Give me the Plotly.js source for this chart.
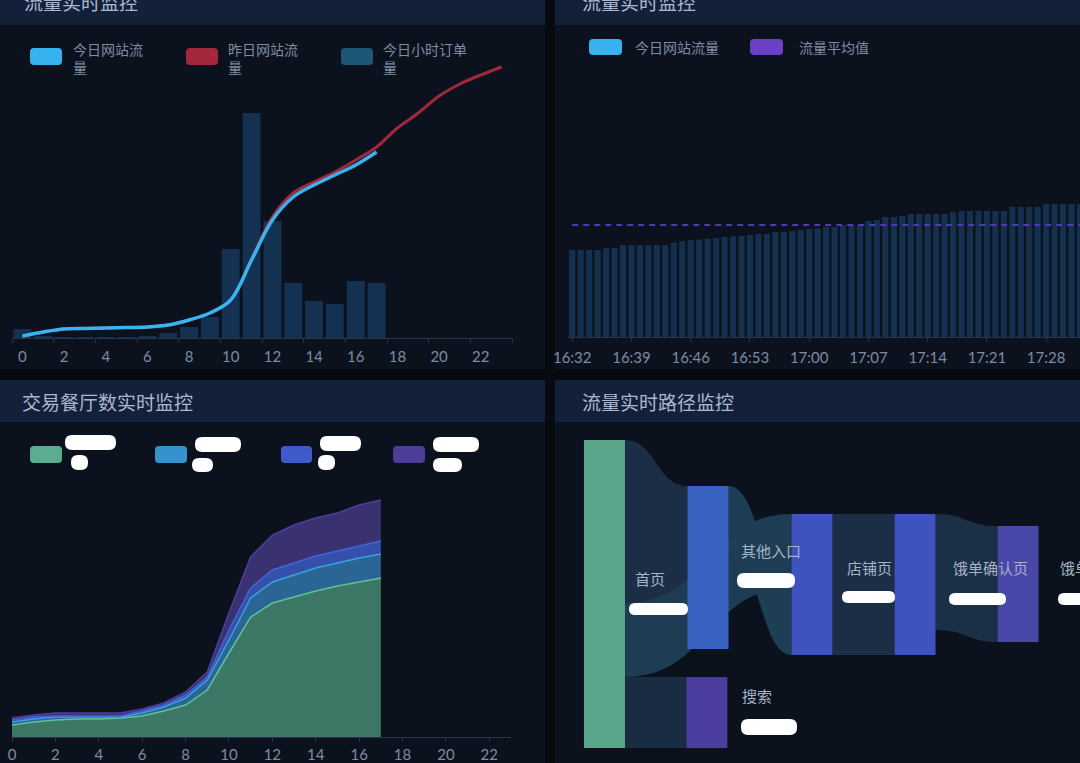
<!DOCTYPE html>
<html>
<head>
<meta charset="utf-8">
<script src="https://cdn.plot.ly/plotly-3.0.1.min.js"></script>
<style>
  html, body { margin: 0; padding: 0; background: #070a10; }
  #chart { width: 1080px; height: 763px; }
</style>
</head>
<body>
<div id="chart"></div>
<script>
const W = 1080, H = 763;

// --- panel 1: 流量实时监控 (hourly) ---
const hours = [0,1,2,3,4,5,6,7,8,9,10,11,12,13,14,15,16,17,18,19,20,21,22,23];
const hourTicks = [0,2,4,6,8,10,12,14,16,18,20,22];
const todayFlow = [200,600,900,950,1000,1050,1100,1300,1800,2500,3800,7800,11800,14100,15300,16300,17300,18600];
const yesterdayFlow = [200,600,900,950,1000,1050,1100,1300,1800,2500,3800,7900,12100,14500,15600,16600,17800,19100,21000,22500,24200,25400,26300,27100];
const hourOrders = [9,2,1,1,1,1,2,5,11,21,89,225,117,55,37,34,57,55];

// --- panel 2: 流量实时监控 (per minute) ---
const minutes = ['16:32','16:33','16:34','16:35','16:36','16:37','16:38','16:39','16:40','16:41',
  '16:42','16:43','16:44','16:45','16:46','16:47','16:48','16:49','16:50','16:51',
  '16:52','16:53','16:54','16:55','16:56','16:57','16:58','16:59','17:00','17:01',
  '17:02','17:03','17:04','17:05','17:06','17:07','17:08','17:09','17:10','17:11',
  '17:12','17:13','17:14','17:15','17:16','17:17','17:18','17:19','17:20','17:21',
  '17:22','17:23','17:24','17:25','17:26','17:27','17:28','17:29','17:30','17:31','17:32'];
const minuteTicks = ['16:32','16:39','16:46','16:53','17:00','17:07','17:14','17:21','17:28'];
const minuteFlow = [870,870,870,870,890,890,920,920,920,920,
  920,920,940,960,970,975,980,990,1000,1005,
  1010,1020,1030,1030,1050,1050,1060,1070,1080,1085,
  1100,1100,1120,1120,1125,1160,1170,1200,1200,1210,
  1230,1230,1230,1230,1230,1250,1260,1260,1260,1260,
  1260,1260,1300,1300,1300,1300,1330,1330,1330,1330,1330];
const avgFlow = 1120;

// --- panel 3: 交易餐厅数实时监控 ---
const areaHours = [0,1,2,3,4,5,6,7,8,9,10,11,12,13,14,15,16,17];
const shopsA = [120,150,170,180,180,190,210,260,320,470,840,1200,1340,1400,1460,1510,1550,1590];
const shopsB = [30,30,30,20,20,10,30,40,70,100,130,190,210,220,230,230,240,240];
const shopsC = [20,20,10,10,10,10,20,20,30,30,100,100,120,120,120,120,120,130];
const shopsD = [20,20,30,30,30,30,20,20,30,50,170,310,350,380,380,380,410,410];

// --- panel 4: 流量实时路径监控 ---
const pathNodes = ['首页','其他入口','搜索','店铺页','饿单确认页','饿单支付页'];
const pathSource = [0,0,0,1,3,4];
const pathTarget = [1,3,2,3,4,5];
const pathValue = [163,74,71,67,141,116];

const CJK = '"Noto Sans CJK SC", "Noto Sans", sans-serif';
const NUM = 'Lato, "Noto Sans", sans-serif';
const tickColor = '#7d8ca4';
const axisColor = '#2a3447';

// pixel helpers
const px = x => x / W;
const py = y => 1 - y / H;

function box(x0, y0, x1, y1, color) {
  return { type: 'rect', xref: 'paper', yref: 'paper', layer: 'below',
    x0: px(x0), x1: px(x1), y0: py(y1), y1: py(y0),
    fillcolor: color, line: { width: 0 } };
}
function pill(x0, y0, x1, y1, color, r, layer) {
  r = r || 4;
  const X = v => px(v).toFixed(5), Y = v => py(v).toFixed(5);
  const p = `M${X(x0 + r)},${Y(y0)} L${X(x1 - r)},${Y(y0)} Q${X(x1)},${Y(y0)} ${X(x1)},${Y(y0 + r)} ` +
    `L${X(x1)},${Y(y1 - r)} Q${X(x1)},${Y(y1)} ${X(x1 - r)},${Y(y1)} L${X(x0 + r)},${Y(y1)} ` +
    `Q${X(x0)},${Y(y1)} ${X(x0)},${Y(y1 - r)} L${X(x0)},${Y(y0 + r)} Q${X(x0)},${Y(y0)} ${X(x0 + r)},${Y(y0)} Z`;
  return { type: 'path', xref: 'paper', yref: 'paper', layer: layer || 'above',
    path: p, fillcolor: color, line: { width: 0 } };
}
function label(x, y, text, opts) {
  return Object.assign({ xref: 'paper', yref: 'paper', x: px(x), y: py(y), text: text,
    showarrow: false, xanchor: 'left', yanchor: 'middle', align: 'left',
    font: { family: CJK, size: 14, color: '#7f8ca3' } }, opts || {});
}

const headerColor = '#12203a';
const bodyColor = '#0b121e';

const shapes = [
  box(0, -2, 545, 25, headerColor), box(0, 25, 545, 369, bodyColor),
  box(555, -2, 1080, 25, headerColor), box(555, 25, 1080, 369, bodyColor),
  box(0, 380, 545, 422, headerColor), box(0, 422, 545, 763, bodyColor),
  box(555, 380, 1080, 422, headerColor), box(555, 422, 1080, 763, bodyColor),
  // legend swatches
  pill(30, 48, 62, 65, '#36b2ef'), pill(186, 48, 218, 65, '#a3283c'), pill(341, 48, 373, 65, '#1d5677'),
  pill(589, 39, 622, 55, '#36b2ef'), pill(750, 39, 783, 55, '#6a40c8'),
  pill(30, 446, 62, 463, '#5aad8e'), pill(155, 446, 187, 463, '#3493cc'),
  pill(281, 446, 312, 463, '#3f5bc9'), pill(393, 446, 425, 463, '#4e3d97'),
  // masked labels
  pill(65, 435, 116, 450, '#ffffff', 7), pill(71, 455, 88, 470, '#ffffff', 7),
  pill(195, 437, 241, 452, '#ffffff', 7), pill(192, 458, 213, 472, '#ffffff', 7),
  pill(320, 436, 361, 451, '#ffffff', 7), pill(318, 455, 335, 470, '#ffffff', 7),
  pill(433, 437, 479, 452, '#ffffff', 7), pill(433, 458, 462, 472, '#ffffff', 7),
  pill(629, 603, 688, 615, '#ffffff', 6), pill(737, 573, 795, 588, '#ffffff', 7),
  pill(741, 719, 797, 735, '#ffffff', 7), pill(842, 591, 895, 603, '#ffffff', 6),
  pill(949, 593, 1006, 605, '#ffffff', 6), pill(1058, 593, 1090, 605, '#ffffff', 6)
];

const titleFont = { family: CJK, size: 19, color: '#aab8cd' };
const nodeFont = { family: CJK, size: 15, color: '#a7b3c6' };
const annotations = [
  label(22, 1, '流量实时监控', { font: titleFont }),
  label(580, 1, '流量实时监控', { font: titleFont }),
  label(20, 401, '交易餐厅数实时监控', { font: titleFont }),
  label(580, 401, '流量实时路径监控', { font: titleFont }),
  label(71, 37, '今日网站流<br>量', { yanchor: 'top' }),
  label(226, 37, '昨日网站流<br>量', { yanchor: 'top' }),
  label(381, 37, '今日小时订单<br>量', { yanchor: 'top' }),
  label(633, 47, '今日网站流量'),
  label(797, 47, '流量平均值'),
  label(633, 578, '首页', { font: nodeFont }),
  label(739, 550, '其他入口', { font: nodeFont }),
  label(740, 695, '搜索', { font: nodeFont }),
  label(845, 567, '店铺页', { font: nodeFont }),
  label(951, 567, '饿单确认页', { font: nodeFont }),
  label(1058, 567, '饿单支付页', { font: nodeFont })
];

const traces = [
  { type: 'bar', x: hours.slice(0, hourOrders.length), y: hourOrders, name: '今日小时订单量',
    xaxis: 'x', yaxis: 'y', marker: { color: '#143151', line: { width: 0 } }, width: 0.86 },
  { type: 'scatter', mode: 'lines', x: hours, y: yesterdayFlow, name: '昨日网站流量',
    xaxis: 'x', yaxis: 'y2', line: { color: '#a3283c', width: 3, shape: 'spline', smoothing: 1 } },
  { type: 'scatter', mode: 'lines', x: hours.slice(0, todayFlow.length), y: todayFlow, name: '今日网站流量',
    xaxis: 'x', yaxis: 'y2', line: { color: '#38b4f0', width: 3.5, shape: 'spline', smoothing: 1 } },

  { type: 'bar', x: minutes, y: minuteFlow, name: '今日网站流量',
    xaxis: 'x3', yaxis: 'y3', marker: { color: '#15304f', line: { width: 0 } } },
  { type: 'scatter', mode: 'lines', x: minutes, y: minutes.map(() => avgFlow), name: '流量平均值',
    xaxis: 'x3', yaxis: 'y3', line: { color: '#4d3bb0', width: 2, dash: '6px,5px' } },

  { type: 'scatter', mode: 'lines', x: areaHours, y: shopsA, stackgroup: 's', name: 'A',
    xaxis: 'x4', yaxis: 'y4', fillcolor: '#3d7866', line: { color: '#5cc29b', width: 1.5 } },
  { type: 'scatter', mode: 'lines', x: areaHours, y: shopsB, stackgroup: 's', name: 'B',
    xaxis: 'x4', yaxis: 'y4', fillcolor: '#2a6594', line: { color: '#38a3dd', width: 1.5 } },
  { type: 'scatter', mode: 'lines', x: areaHours, y: shopsC, stackgroup: 's', name: 'C',
    xaxis: 'x4', yaxis: 'y4', fillcolor: '#3550aa', line: { color: '#4664d8', width: 1.5 } },
  { type: 'scatter', mode: 'lines', x: areaHours, y: shopsD, stackgroup: 's', name: 'D',
    xaxis: 'x4', yaxis: 'y4', fillcolor: '#3a3170', line: { color: '#4d3f9e', width: 1.5 } },

  { type: 'sankey', arrangement: 'fixed',
    domain: { x: [584 / W, 1039 / W], y: [py(748), py(440)] },
    node: { label: pathNodes, pad: 20, thickness: 41,
      x: [0.045, 0.2725, 0.270, 0.501, 0.7275, 0.954],
      y: [0.5, 0.414, 0.885, 0.469, 0.469, 0.4675],
      color: ['#5aa68a', '#3a62c2', '#4b3d9e', '#3e52c0', '#3e52c0', '#4848a8'],
      line: { width: 0 } },
    link: { source: pathSource, target: pathTarget, value: pathValue,
      color: ['#1b2e45', '#1e3c53', '#1a2c42', '#1e3e56', '#1b2e45', '#1b2f46'] },
    textfont: { family: CJK, size: 1, color: 'rgba(0,0,0,0)' } }
];

const xCommon = { showgrid: false, zeroline: false, showline: true, linecolor: axisColor, linewidth: 1,
  tickfont: { family: NUM, size: 15, color: tickColor }, fixedrange: true };
const yCommon = { showgrid: false, zeroline: false, showline: false, showticklabels: false, fixedrange: true };

const layout = {
  width: W, height: H,
  margin: { l: 0, r: 0, t: 0, b: 0 },
  paper_bgcolor: '#070a10', plot_bgcolor: 'rgba(0,0,0,0)',
  showlegend: false, bargap: 0.28,
  font: { family: CJK },
  xaxis: Object.assign({}, xCommon, { domain: [12 / W, 512 / W], range: [-0.5, 23.5],
    tickmode: 'array', tickvals: hourTicks, ticks: '', ticklabelstandoff: 5,
    minor: { tickmode: 'linear', tick0: -0.5, dtick: 2, ticks: 'outside', ticklen: 4, tickcolor: axisColor } }),
  yaxis: Object.assign({}, yCommon, { domain: [py(338), py(58)], range: [0, 280] }),
  yaxis2: Object.assign({}, yCommon, { overlaying: 'y', range: [0, 28000] }),
  xaxis3: Object.assign({}, xCommon, { domain: [568 / W, 1], range: [-0.5, 60], type: 'category',
    tickmode: 'array', tickvals: minuteTicks, ticks: 'outside', ticklen: 4, tickcolor: axisColor,
    ticklabelstandoff: 3, anchor: 'y3' }),
  yaxis3: Object.assign({}, yCommon, { domain: [py(337), py(58)], range: [0, 2790], anchor: 'x3' }),
  xaxis4: Object.assign({}, xCommon, { domain: [12 / W, 511 / W], range: [0, 23],
    tickmode: 'array', tickvals: hourTicks, ticks: 'outside', ticklen: 4, tickcolor: axisColor,
    anchor: 'y4' }),
  yaxis4: Object.assign({}, yCommon, { domain: [py(737), py(437)], range: [0, 3000], anchor: 'x4' }),
  shapes: shapes,
  annotations: annotations
};

Plotly.newPlot('chart', traces, layout, { displayModeBar: false, staticPlot: true });
</script>
</body>
</html>
